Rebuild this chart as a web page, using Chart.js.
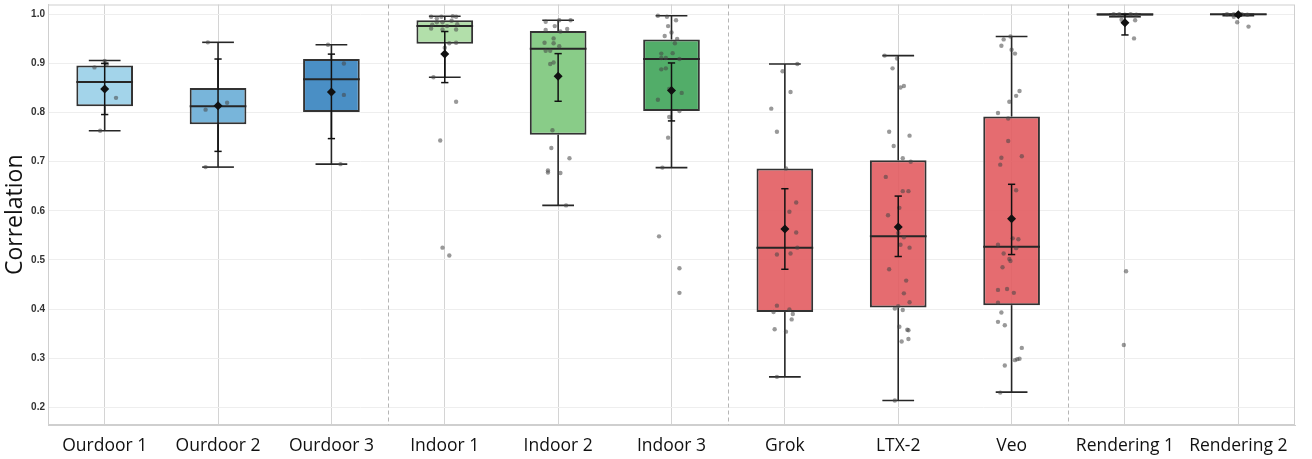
<!DOCTYPE html>
<html>
<head>
<meta charset="utf-8">
<script src="https://cdn.jsdelivr.net/npm/chart.js@4/dist/chart.umd.min.js"></script>
<style>
  body { margin: 0; background: #fff; }
  #wrap { width: 1312px; height: 459px; }
</style>
</head>
<body>
<div id="wrap"><canvas id="chart" width="1312" height="459"></canvas></div>
<script>
const categories = ['Ourdoor 1', 'Ourdoor 2', 'Ourdoor 3', 'Indoor 1', 'Indoor 2', 'Indoor 3',
  'Grok', 'LTX-2', 'Veo', 'Rendering 1', 'Rendering 2'];
const yTicks = [0.2, 0.3, 0.4, 0.5, 0.6, 0.7, 0.8, 0.9, 1.0];

// box statistics
const q1 = [0.813, 0.776, 0.801, 0.940, 0.755, 0.803, 0.394, 0.403, 0.408, 0.997, 0.998];
const q3 = [0.896, 0.850, 0.909, 0.988, 0.966, 0.949, 0.686, 0.703, 0.792, 1.000, 1.000];
const medians = [0.862, 0.813, 0.868, 0.976, 0.930, 0.909, 0.525, 0.548, 0.527, 1.000, 1.000];
const whiskerLow = [0.763, 0.689, 0.695, 0.872, 0.611, 0.688, 0.262, 0.214, 0.231, 0.995, 0.997];
const whiskerHigh = [0.906, 0.943, 0.938, 0.996, 0.988, 0.997, 0.899, 0.916, 0.955, 1.000, 1.000];

// mean and its interval
const means = [0.848, 0.814, 0.842, 0.919, 0.874, 0.845, 0.563, 0.567, 0.584, 0.983, 0.999];
const ciLow = [0.796, 0.721, 0.747, 0.861, 0.823, 0.783, 0.481, 0.507, 0.511, 0.958, 0.997];
const ciHigh = [0.900, 0.909, 0.919, 0.965, 0.920, 0.901, 0.645, 0.630, 0.654, 1.000, 1.000];

// individual samples: [jitter, value]
const samples = [
  [[-0.09, 0.892], [0.0, 0.905], [0.1, 0.830], [-0.04, 0.763], [0.02, 0.899]],
  [[-0.09, 0.943], [-0.11, 0.806], [0.08, 0.820], [-0.11, 0.689]],
  [[-0.03, 0.938], [0.11, 0.900], [0.11, 0.836], [0.08, 0.695]],
  [[-0.12, 0.995], [-0.07, 0.992], [-0.03, 0.995], [0.07, 0.996], [0.10, 0.995], [-0.11, 0.979],
   [-0.07, 0.984], [-0.02, 0.984], [0.02, 0.976], [0.06, 0.987], [0.11, 0.980], [-0.12, 0.971],
   [-0.02, 0.969], [0.10, 0.969], [0.04, 0.941], [0.10, 0.942], [0.0, 0.932], [-0.10, 0.872],
   [0.10, 0.822], [-0.04, 0.743], [-0.02, 0.525], [0.04, 0.509]],
  [[-0.11, 0.985], [0.01, 0.988], [0.11, 0.988], [-0.03, 0.976], [-0.11, 0.968], [0.02, 0.965],
   [0.08, 0.970], [-0.04, 0.951], [-0.12, 0.942], [-0.04, 0.941], [0.01, 0.935], [-0.11, 0.926],
   [-0.07, 0.926], [-0.04, 0.902], [-0.07, 0.899], [-0.05, 0.764], [-0.06, 0.728], [0.10, 0.707],
   [-0.09, 0.682], [-0.09, 0.678], [0.02, 0.677], [0.07, 0.611]],
  [[-0.12, 0.997], [-0.04, 0.995], [0.04, 0.988], [-0.03, 0.976], [0.0, 0.963], [-0.06, 0.956],
   [0.05, 0.950], [0.03, 0.941], [0.01, 0.921], [-0.09, 0.920], [-0.09, 0.911], [-0.05, 0.911],
   [0.07, 0.909], [-0.09, 0.888], [-0.05, 0.890], [-0.02, 0.848], [0.09, 0.840], [-0.12, 0.826],
   [0.07, 0.803], [-0.02, 0.791], [-0.03, 0.749], [-0.08, 0.688], [-0.11, 0.548], [0.07, 0.483],
   [0.07, 0.433]],
  [[0.11, 0.899], [-0.02, 0.884], [0.05, 0.842], [-0.12, 0.808], [-0.07, 0.761], [0.01, 0.686],
   [0.10, 0.617], [0.04, 0.598], [0.10, 0.556], [0.11, 0.525], [-0.07, 0.511], [0.05, 0.513],
   [-0.07, 0.407], [-0.10, 0.394], [0.04, 0.399], [0.07, 0.390], [0.06, 0.379], [-0.09, 0.359],
   [0.01, 0.354], [-0.07, 0.262]],
  [[-0.12, 0.916], [-0.01, 0.910], [-0.05, 0.890], [0.02, 0.851], [0.05, 0.854], [-0.08, 0.761],
   [0.10, 0.753], [-0.04, 0.732], [0.04, 0.707], [0.11, 0.700], [-0.11, 0.669], [0.04, 0.640],
   [0.09, 0.640], [0.01, 0.606], [-0.09, 0.591], [0.0, 0.555], [0.05, 0.546], [0.02, 0.531],
   [0.10, 0.525], [-0.08, 0.481], [0.07, 0.458], [0.05, 0.432], [0.10, 0.414], [-0.03, 0.401],
   [0.0, 0.406], [0.04, 0.398], [0.01, 0.364], [0.08, 0.358], [0.09, 0.357], [0.09, 0.339],
   [0.03, 0.334], [-0.03, 0.214]],
  [[-0.01, 0.955], [-0.07, 0.949], [-0.09, 0.936], [0.0, 0.928], [0.03, 0.920], [0.07, 0.844],
   [0.04, 0.834], [-0.02, 0.822], [-0.12, 0.799], [-0.03, 0.788], [-0.03, 0.742], [0.09, 0.711],
   [-0.09, 0.708], [-0.10, 0.694], [0.04, 0.642], [0.01, 0.544], [0.06, 0.542], [-0.12, 0.531],
   [0.04, 0.524], [-0.07, 0.513], [-0.02, 0.502], [-0.01, 0.498], [-0.08, 0.485], [-0.12, 0.439],
   [-0.04, 0.441], [0.02, 0.433], [-0.12, 0.413], [-0.09, 0.393], [-0.12, 0.374], [-0.06, 0.367],
   [0.09, 0.321], [0.03, 0.296], [0.05, 0.298], [0.07, 0.299], [-0.06, 0.285], [-0.10, 0.230]],
  [[-0.1, 1.0], [-0.05, 1.0], [0.0, 0.999], [0.05, 1.0], [0.1, 0.999], [-0.03, 0.989],
   [0.09, 0.988], [0.08, 0.951], [0.01, 0.477], [-0.01, 0.327]],
  [[-0.1, 1.0], [-0.04, 1.0], [0.03, 1.0], [0.08, 0.999], [-0.04, 0.995], [-0.01, 0.984],
   [0.09, 0.975]]
];

const boxColors = ['#a3d4ea', '#78b5da', '#4a8fc5', '#b2dfaa', '#89cc88', '#52ad69',
  'rgba(226,92,96,0.9)', 'rgba(226,92,96,0.9)', 'rgba(226,92,96,0.9)', '#d8d8d8', '#d8d8d8'];
const groupBreaks = [2.5, 5.5, 8.5];

const boxData = categories.map((c, i) => ({ x: i, y: [q1[i], q3[i]] }));
const pointData = [];
samples.forEach((list, i) => list.forEach(p => pointData.push({ x: i + p[0], y: p[1] })));
const meanData = means.map((m, i) => ({ x: i, y: m }));

const boxPlotExtras = {
  id: 'boxPlotExtras',
  beforeDatasetsDraw(chart) {
    const { ctx, chartArea: a, scales: { x } } = chart;
    ctx.save();
    ctx.strokeStyle = '#cfcfcf';
    ctx.lineWidth = 1;
    ctx.strokeRect(a.left + 0.5, a.top + 0.5, a.right - a.left - 1, a.bottom - a.top - 1);
    ctx.strokeStyle = '#b5b5b5';
    ctx.setLineDash([4, 3]);
    groupBreaks.forEach(b => {
      const px = Math.round(x.getPixelForValue(b)) + 0.5;
      ctx.beginPath();
      ctx.moveTo(px, a.top);
      ctx.lineTo(px, a.bottom);
      ctx.stroke();
    });
    ctx.restore();
  },
  afterDatasetDraw(chart, args) {
    const { ctx, scales: { x, y } } = chart;
    const line = (x1, y1, x2, y2) => {
      ctx.beginPath();
      ctx.moveTo(x.getPixelForValue(x1), y.getPixelForValue(y1));
      ctx.lineTo(x.getPixelForValue(x2), y.getPixelForValue(y2));
      ctx.stroke();
    };
    ctx.save();
    if (args.index === 0) {
      ctx.strokeStyle = '#262626';
      ctx.lineWidth = 1.6;
      categories.forEach((c, i) => {
        line(i, q3[i], i, whiskerHigh[i]);
        line(i, q1[i], i, whiskerLow[i]);
        line(i - 0.14, whiskerHigh[i], i + 0.14, whiskerHigh[i]);
        line(i - 0.14, whiskerLow[i], i + 0.14, whiskerLow[i]);
      });
      ctx.lineWidth = 2;
      categories.forEach((c, i) => line(i - 0.25, medians[i], i + 0.25, medians[i]));
    }
    if (args.index === 1) {
      ctx.strokeStyle = '#111';
      ctx.lineWidth = 1.5;
      categories.forEach((c, i) => {
        line(i, ciLow[i], i, ciHigh[i]);
        line(i - 0.032, ciLow[i], i + 0.032, ciLow[i]);
        line(i - 0.032, ciHigh[i], i + 0.032, ciHigh[i]);
      });
    }
    ctx.restore();
  }
};

new Chart(document.getElementById('chart'), {
  type: 'bar',
  data: {
    datasets: [
      {
        type: 'bar',
        data: boxData,
        backgroundColor: boxColors,
        borderColor: '#333',
        borderWidth: 2,
        borderSkipped: false,
        barPercentage: 0.5,
        categoryPercentage: 1,
        order: 3
      },
      {
        type: 'scatter',
        data: pointData,
        pointRadius: 2.2,
        pointBackgroundColor: 'rgba(70,70,70,0.55)',
        pointBorderWidth: 0,
        order: 2
      },
      {
        type: 'scatter',
        data: meanData,
        pointStyle: 'rectRot',
        pointRadius: 4.5,
        pointBackgroundColor: '#111',
        pointBorderColor: '#111',
        pointBorderWidth: 0,
        order: 1
      }
    ]
  },
  options: {
    responsive: false,
    animation: false,
    layout: { padding: { top: 3, right: 17, left: 0, bottom: 0 } },
    plugins: { legend: { display: false }, tooltip: { enabled: false } },
    scales: {
      x: {
        type: 'linear',
        offset: false,
        min: -0.5,
        max: 10.5,
        afterBuildTicks: axis => { axis.ticks = categories.map((c, i) => ({ value: i })); },
        afterFit: scale => {
          scale.height = 34;
          scale.paddingLeft = 0;
          scale.paddingRight = 0;
        },
        grid: { color: '#d4d4d4', drawTicks: false, offset: false },
        border: { color: '#cfcfcf' },
        ticks: {
          padding: 11,
          maxRotation: 0,
          autoSkip: false,
          color: '#111',
          font: { family: 'Open Sans', size: 17.5 },
          callback: v => categories[v]
        }
      },
      y: {
        min: 0.164,
        max: 1.02,
        afterBuildTicks: axis => { axis.ticks = yTicks.map(v => ({ value: v })); },
        afterFit: scale => {
          scale.width = 48;
          scale.paddingTop = 0;
          scale.paddingBottom = 0;
        },
        grid: { color: '#eeeeee', drawTicks: false },
        border: { color: '#cfcfcf' },
        ticks: {
          padding: 3,
          color: '#333',
          font: { family: 'Liberation Sans', size: 10, weight: 'bold' },
          callback: v => v.toFixed(1)
        },
        title: {
          display: true,
          text: 'Correlation',
          color: '#111',
          padding: { top: 2, bottom: 0 },
          font: { family: 'Open Sans', size: 23 }
        }
      }
    }
  },
  plugins: [boxPlotExtras]
});
</script>
</body>
</html>
